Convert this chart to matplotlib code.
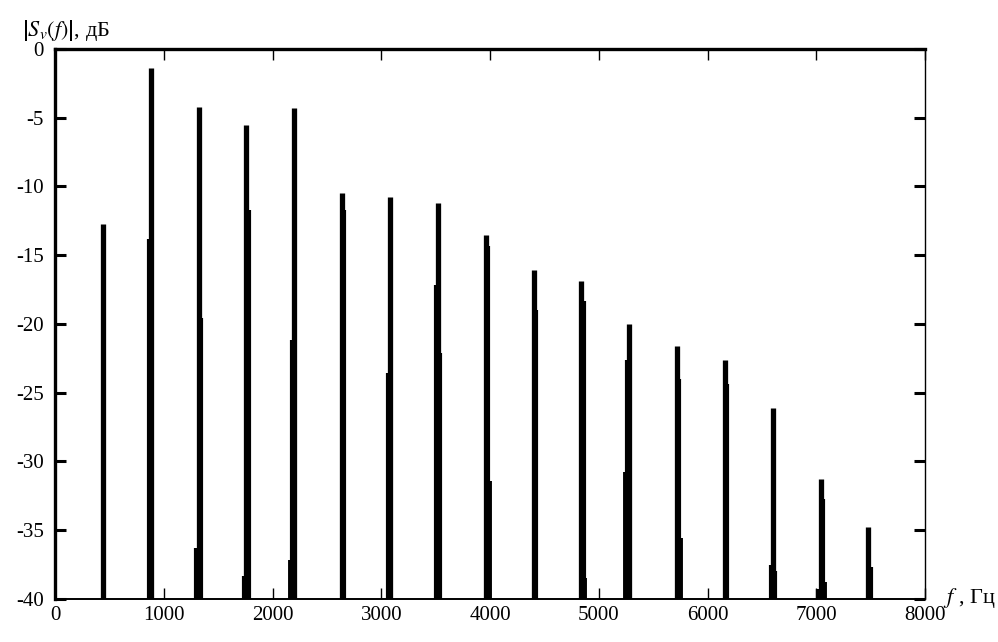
import numpy as np
import matplotlib
matplotlib.use('Agg')
import matplotlib.pyplot as plt

plt.rcParams['font.family'] = ['Liberation Serif', 'DejaVu Serif']
plt.rcParams['mathtext.fontset'] = 'stix'
plt.rcParams['axes.unicode_minus'] = False

# harmonics of 440 Hz, levels in dB
harm_hz = [440, 880, 1320, 1760, 2200, 2640, 3080, 3520, 3960,
           4400, 4840, 5280, 5720, 6160, 6600, 7040, 7480]
peak_db = [-12.7, -1.4, -4.2, -5.5, -4.3, -10.5, -10.8, -11.2, -13.5,
           -16.1, -16.9, -20.0, -21.6, -22.6, -26.1, -31.3, -34.8]
left_db = [np.nan, -13.8, -36.3, -38.3, -21.2, np.nan, -23.6, -17.2, np.nan,
           np.nan, np.nan, -22.6, np.nan, np.nan, -37.5, -39.3, np.nan]
right_db = [np.nan, np.nan, -19.6, -11.7, np.nan, -11.7, np.nan, -22.1, -14.3,
            -19.0, -18.3, np.nan, -24.0, -24.4, -38.0, -32.7, -37.7]
left2_db = [np.nan, np.nan, np.nan, np.nan, -37.2, np.nan, np.nan, np.nan, np.nan,
            np.nan, np.nan, -30.8, np.nan, np.nan, np.nan, np.nan, np.nan]
right2_db = [np.nan, np.nan, np.nan, np.nan, np.nan, np.nan, np.nan, np.nan, -31.4,
             np.nan, -38.5, np.nan, -35.6, np.nan, np.nan, -38.8, np.nan]

f = np.array(harm_hz, dtype=float)
fig = plt.figure(figsize=(9.98, 6.42), dpi=100)
ax = fig.add_axes([0.0551, 0.067, 0.8718, 0.8567])

ax.vlines(f - 36, -40, left2_db, color='black', lw=2.8)
ax.vlines(f + 36, -40, right2_db, color='black', lw=2.8)
ax.vlines(f - 20, -40, left_db, color='black', lw=3.0)
ax.vlines(f + 20, -40, right_db, color='black', lw=3.0)
ax.vlines(f, -40, peak_db, color='black', lw=3.8)

ax.set_xlim(0, 8000)
ax.set_ylim(-40, 0)
ax.set_xticks(np.arange(0, 8001, 1000))
ax.set_yticks(np.arange(-40, 1, 5))
ax.tick_params(axis='x', direction='in', top=True, length=8, width=1,
               labelsize=15, pad=5)
ax.tick_params(axis='y', direction='in', right=True, length=8, width=2.2,
               labelsize=15, pad=8)
ax.spines['top'].set_linewidth(2.4)
ax.spines['left'].set_linewidth(2.4)
ax.spines['right'].set_linewidth(1.0)
ax.spines['bottom'].set_linewidth(1.4)

fig.text(0.022, 0.944, r'$\left|S_{\mathit{v}}(f)\right|$, дБ', fontsize=16,
         ha='left', va='baseline')
fig.text(0.945, 0.06, r'$f$ , Гц', fontsize=16, ha='left', va='baseline')

fig.savefig('out.png', dpi=100)
